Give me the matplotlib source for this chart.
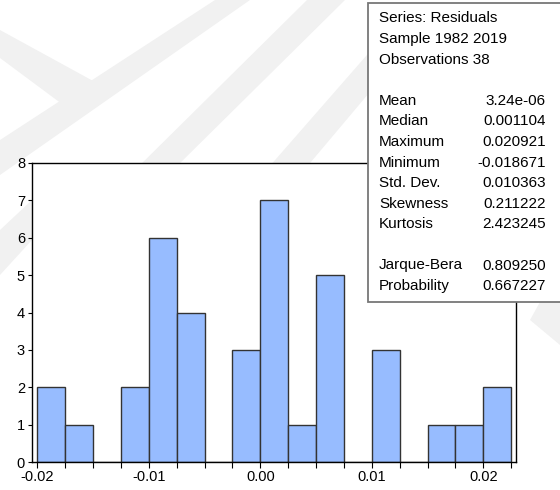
import numpy as np
import matplotlib
matplotlib.use("Agg")
import matplotlib.pyplot as plt
from matplotlib.patches import Polygon, Rectangle

plt.rcParams['font.family'] = ['Liberation Sans', 'DejaVu Sans']

# histogram of residuals (EViews style)
bin_start = -0.02
bin_width = 0.0025
counts = [2, 1, 0, 2, 6, 4, 0, 3, 7, 1, 5, 0, 3, 0, 1, 1, 2]

xticks = [-0.02, -0.01, 0.00, 0.01, 0.02]
xtick_labels = ["-0.02", "-0.01", "0.00", "0.01", "0.02"]
yticks = [0, 1, 2, 3, 4, 5, 6, 7, 8]

header = ["Series: Residuals", "Sample 1982 2019", "Observations 38"]
stat_names = ["Mean", "Median", "Maximum", "Minimum", "Std. Dev.", "Skewness", "Kurtosis"]
stat_values = ["3.24e-06", "0.001104", "0.020921", "-0.018671", "0.010363", "0.211222", "2.423245"]
test_names = ["Jarque-Bera", "Probability"]
test_values = ["0.809250", "0.667227"]

W, H = 560, 490
fig = plt.figure(figsize=(W / 100, H / 100), dpi=100)


def fx(px):
    return px / W


def fy(py):
    return 1 - py / H


# faint watermark stripes in the background
bands = [
    [(0, 30), (0, 58), (70, 110), (95, 82)],
    [(0, 140), (0, 175), (250, 0), (215, 0)],
    [(130, 175), (168, 175), (345, 0), (307, 0)],
    [(262, 175), (300, 175), (380, 80), (380, 40)],
    [(0, 230), (0, 275), (32, 240), (32, 200)],
    [(530, 320), (560, 345), (560, 300), (540, 302)],
]
for b in bands:
    fig.patches.append(Polygon([(fx(x), fy(y)) for x, y in b], closed=True,
                               transform=fig.transFigure, facecolor='#f1f1f1',
                               edgecolor='none', zorder=-5))

ax = fig.add_axes([fx(32), fy(462), fx(516) - fx(32), fy(163) - fy(462)])
ax.set_zorder(1)
ax.set_facecolor('white')

edges = bin_start + bin_width * np.arange(len(counts))
ax.bar(edges, counts, width=bin_width, align='edge', color='#97bcff',
       edgecolor='#333333', linewidth=1.0)

ax.set_xlim(-0.020475, 0.022933)
ax.set_ylim(0, 8)
ax.set_xticks(xticks)
ax.set_xticklabels(xtick_labels)
ax.set_xticks(bin_start + bin_width * np.arange(len(counts) + 1), minor=True)
ax.set_yticks(yticks)
ax.tick_params(axis='x', which='both', direction='out', length=4, width=0.8,
               labelsize=10.5, pad=2)
ax.tick_params(axis='y', direction='out', length=3, width=0.8, labelsize=10.5, pad=2)
for s in ax.spines.values():
    s.set_linewidth(1.0)
    s.set_color('black')

# statistics box
box = Rectangle((fx(368), fy(302)), fx(W + 5) - fx(368), fy(3) - fy(302),
                transform=fig.transFigure, facecolor='white', edgecolor='#777777',
                linewidth=1.3, zorder=10)
fig.patches.append(box)

lx, rx = fx(379), fx(546)
y0, dy = 18.3, 20.6
for i, t in enumerate(header):
    fig.text(lx, fy(y0 + i * dy), t, ha='left', va='center', fontsize=11, zorder=11)
for i, (n, v) in enumerate(zip(stat_names, stat_values)):
    y = fy(y0 + (i + 4) * dy)
    fig.text(lx, y, n, ha='left', va='center', fontsize=11, zorder=11)
    fig.text(rx, y, v, ha='right', va='center', fontsize=11, zorder=11)
for i, (n, v) in enumerate(zip(test_names, test_values)):
    y = fy(y0 + (i + 12) * dy)
    fig.text(lx, y, n, ha='left', va='center', fontsize=11, zorder=11)
    fig.text(rx, y, v, ha='right', va='center', fontsize=11, zorder=11)

fig.savefig('out.png', dpi=100)
